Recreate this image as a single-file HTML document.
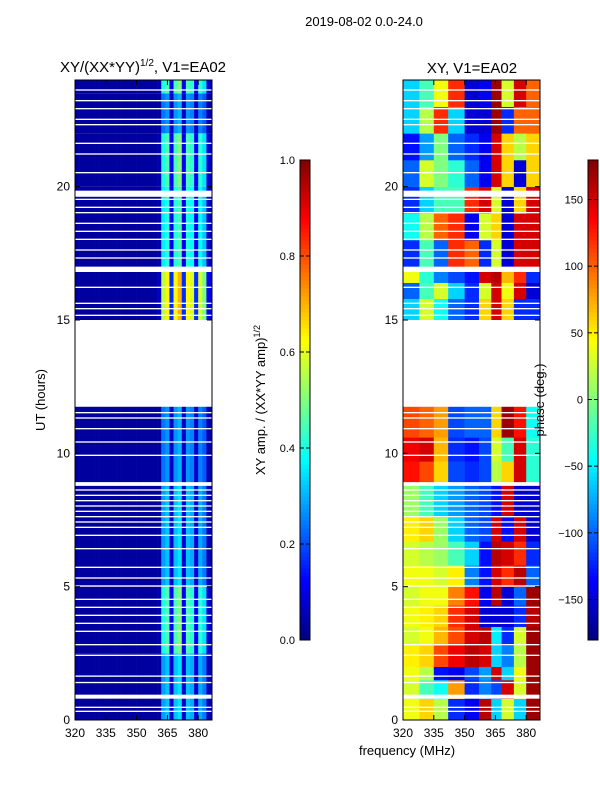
<!DOCTYPE html>
<html><head><meta charset="utf-8">
<style>
body{margin:0;background:#fff;}
svg text{font-family:"Liberation Sans","DejaVu Sans",sans-serif;fill:#000;}
</style></head>
<body>
<svg id="fig" width="600" height="800" viewBox="0 0 600 800" xmlns="http://www.w3.org/2000/svg">
<defs><clipPath id="cl"><rect x="75" y="80" width="137" height="640"/></clipPath><clipPath id="cr"><rect x="403" y="80" width="137" height="640"/></clipPath></defs>
<text x="364" y="26" font-size="13" text-anchor="middle">2019-08-02 0.0-24.0</text>
<text x="143" y="72" font-size="15" text-anchor="middle">XY/(XX*YY)<tspan font-size="10" dy="-6">1/2</tspan><tspan dy="6">, V1=EA02</tspan></text>
<text x="472" y="73" font-size="15" text-anchor="middle">XY, V1=EA02</text>
<text transform="translate(45,400) rotate(-90)" font-size="13" text-anchor="middle">UT (hours)</text>
<text x="407" y="755" font-size="13" text-anchor="middle">frequency (MHz)</text>
<text transform="translate(265,400) rotate(-90)" font-size="13" text-anchor="middle">XY amp. / (XX*YY amp)<tspan font-size="9" dy="-5">1/2</tspan></text>
<g id="left" clip-path="url(#cl)"></g>
<g id="right" clip-path="url(#cr)"></g>
<g id="axes"></g>
<text transform="translate(544,400) rotate(-90)" font-size="13" text-anchor="middle">phase (deg.)</text>
</svg>
<script>
// ---- data ----
const channels = [320,322,324,326,328,330,332,334,336,338,340,342,344,346,348,350,352,354,356,358,360,362,364,366,368,370,372,374,376,378,380,382,384,386];
const ampProfile = [0.03,0.03,0.03,0.03,0.03,0.03,0.03,0.03,0.03,0.03,0.03,0.03,0.03,0.03,0.03,0.03,0.03,0.03,0.03,0.03,0.05,0.4,0.45,0.12,0.45,0.5,0.12,0.45,0.42,0.12,0.42,0.35,0.08,0.05];
const ampSegStart = [0,2.5,5,8.9,15,17,20,22,23.5];
const ampSegEnd   = [2.5,5,8.9,11.75,17,20,22,23.5,24];
const ampSegScale = [0.7,1.0,0.7,0.6,1.4,0.9,1.0,0.6,1.0];
const phaseGroupEdges = [320,328,335,342,350,357,363,368,374,380,388];
const phSegStart = [0,0.8,1.5,2,2.8,3.5,4.3,5,5.8,6.7,7.6,8.9,9.7,10.6,15,15.8,16.4,17,18,19,20,21,22,23];
const phSegEnd   = [0.8,1.5,2,2.8,3.5,4.3,5,5.8,6.7,7.6,8.8,9.7,10.6,11.75,15.8,16.4,17,18,19,20,21,22,23,24];
const phSegVals = [
 [40,60,20,-120,-140,160,-60,30,-60,170],
 [30,-20,-40,80,-120,-90,-110,150,30,170],
 [40,20,-130,-140,-110,-80,150,-60,40,170],
 [50,60,110,140,160,150,-60,-90,20,170],
 [30,40,70,110,150,160,-50,-120,30,170],
 [40,50,60,120,150,-150,-150,-150,-120,160],
 [30,40,40,90,130,-140,160,-150,-100,170],
 [40,40,30,50,-90,-130,150,120,160,-100],
 [30,20,10,-20,-60,-130,160,150,120,-120],
 [50,60,10,-60,-100,-110,150,-130,150,-150],
 [10,-20,-60,-80,-100,-110,-130,150,-150,-150],
 [130,110,60,-110,-120,-110,20,60,150,-30],
 [140,150,70,-120,-130,-110,30,-20,150,-30],
 [110,100,80,-110,-100,-100,60,170,130,-40],
 [-60,30,-40,-100,-120,60,150,60,-120,-120],
 [-100,-20,30,-60,-120,30,150,40,150,-150],
 [40,-30,-90,-110,-130,150,160,70,120,-120],
 [-120,-20,-100,120,100,-120,30,-150,150,150],
 [-40,20,100,120,-140,30,60,-150,150,150],
 [-120,-60,-20,-20,120,150,30,-150,60,150],
 [-100,30,0,-30,-100,-140,150,60,-150,60],
 [-130,-80,0,-100,-120,-140,150,60,20,60],
 [-60,20,120,-60,-150,-150,170,-120,100,100],
 [-60,-20,40,120,-150,-140,170,30,150,100]
];
const gapStart = [0.3,0.45,0.8,1.38,1.62,2.4,2.8,3.3,3.6,3.9,4.2,4.5,5.0,5.3,5.7,6.4,6.9,7.2,7.4,7.6,7.8,8.0,8.2,8.4,8.6,8.78,9.9,10.4,10.9,11.3,11.5,11.75,15.15,15.4,15.6,16.2,16.8,17.3,17.6,18.0,18.3,18.6,19.0,19.2,19.5,19.62,20.5,21.2,21.6,22.3,22.5,22.9,23.2,23.6];
const gapEnd   = [0.35,0.5,0.95,1.43,1.67,2.45,2.85,3.35,3.65,3.95,4.25,4.55,5.05,5.35,5.75,6.45,6.95,7.25,7.45,7.65,7.85,8.05,8.25,8.45,8.65,8.92,9.95,10.45,10.95,11.35,11.55,15.0,15.2,15.45,15.65,16.25,17.0,17.35,17.65,18.05,18.35,18.65,19.05,19.25,19.55,19.85,20.55,21.25,21.65,22.35,22.55,22.95,23.25,23.65];
const utTicks = [0,5,10,15,20];
const freqTicks = [320,335,350,365,380];
const ampTicks = [0.0,0.2,0.4,0.6,0.8,1.0];
const phaseTicks = [-150,-100,-50,0,50,100,150];

// ---- scales ----
const NS='http://www.w3.org/2000/svg';
const yUT = u => 720 - u*(640/24);
const xL = f => 75 + (f-320)*(30.8/15);
const xR = f => 403 + (f-320)*(30.8/15);
const yAmp = v => 640 - v*480;
const yPh = p => 399.5 - p*(480/360);
function jet(v){v=Math.max(0,Math.min(1,v));
 const r=Math.max(0,Math.min(1,1.5-Math.abs(4*v-3))),g=Math.max(0,Math.min(1,1.5-Math.abs(4*v-2))),b=Math.max(0,Math.min(1,1.5-Math.abs(4*v-1)));
 return `rgb(${Math.round(r*255)},${Math.round(g*255)},${Math.round(b*255)})`;}
function mk(tag,attrs,parent){const e=document.createElementNS(NS,tag);for(const k in attrs)e.setAttribute(k,attrs[k]);parent.appendChild(e);return e;}

const L=document.getElementById('left'),R=document.getElementById('right'),A=document.getElementById('axes');
ampSegStart.forEach((s,i)=>{
 channels.forEach((f,j)=>{
  const v = j<20 ? ampProfile[j] : ampProfile[j]*ampSegScale[i];
  const c=mk('rect',{x:xL(f),y:yUT(ampSegEnd[i]),width:xL(f+2)-xL(f)+0.3,height:yUT(s)-yUT(ampSegEnd[i]),fill:jet(v)},L);
  
  
 });
});
phSegStart.forEach((s,i)=>{
 for(let g=0;g<phaseGroupEdges.length-1;g++){
  const f0=phaseGroupEdges[g],f1=phaseGroupEdges[g+1];
  const c=mk('rect',{x:xR(f0),y:yUT(phSegEnd[i]),width:xR(f1)-xR(f0)+0.3,height:yUT(s)-yUT(phSegEnd[i])+0.3,fill:jet((phSegVals[i][g]+180)/360)},R);
  
  
 }
});
gapStart.forEach((s,i)=>{
 [[75,L],[403,R]].forEach(([x0,par])=>{
  const r=mk('rect',{x:x0,y:yUT(gapEnd[i]),width:137,height:Math.max(1.2,yUT(s)-yUT(gapEnd[i])),fill:'#fff'},par);
  
  
 });
});
[[75,'left-frame'],[403,'right-frame']].forEach(([x0,n])=>{
 const r=mk('rect',{x:x0,y:80,width:137,height:640,fill:'none',stroke:'#000','stroke-width':1},A);
 
 
 utTicks.forEach(u=>{
  mk('line',{x1:x0,x2:x0+5,y1:yUT(u),y2:yUT(u),stroke:'#000'},A);
  mk('line',{x1:x0+137,x2:x0+132,y1:yUT(u),y2:yUT(u),stroke:'#000'},A);
  const t=mk('text',{x:x0-5,y:yUT(u)+4,'font-size':12,'text-anchor':'end'},A);t.textContent=u;
  
  
 });
 freqTicks.forEach(f=>{
  const xx=x0===75?xL(f):xR(f);
  mk('line',{x1:xx,x2:xx,y1:720,y2:715,stroke:'#000'},A);
  mk('line',{x1:xx,x2:xx,y1:80,y2:85,stroke:'#000'},A);
  const t=mk('text',{x:xx,y:737,'font-size':12,'text-anchor':'middle'},A);t.textContent=f;
  
  
 });
});
for(let k=0;k<120;k++){
 const v0=k/120,v1=(k+1)/120;
 mk('rect',{x:300,y:yAmp(v1),width:10,height:yAmp(v0)-yAmp(v1)+0.5,fill:jet((v0+v1)/2)},A);
 mk('rect',{x:588,y:640-(k+1)*4,width:10,height:4.5,fill:jet((k+0.5)/120)},A);
}
const cb1=mk('rect',{x:300,y:160,width:10,height:480,fill:'none',stroke:'#000'},A);


const cb2=mk('rect',{x:588,y:160,width:10,height:480,fill:'none',stroke:'#000'},A);


ampTicks.forEach(v=>{
 mk('line',{x1:300,x2:304,y1:yAmp(v),y2:yAmp(v),stroke:'#000'},A);
 mk('line',{x1:310,x2:306,y1:yAmp(v),y2:yAmp(v),stroke:'#000'},A);
 const t=mk('text',{x:295,y:yAmp(v)+4,'font-size':11,'text-anchor':'end'},A);t.textContent=v.toFixed(1);
 
 
});
phaseTicks.forEach(p=>{
 mk('line',{x1:588,x2:592,y1:yPh(p),y2:yPh(p),stroke:'#000'},A);
 mk('line',{x1:598,x2:594,y1:yPh(p),y2:yPh(p),stroke:'#000'},A);
 const t=mk('text',{x:583,y:yPh(p)+4,'font-size':11,'text-anchor':'end'},A);t.textContent=p<0?'\u2212'+(-p):p;
 
 
});
</script>
</body></html>
